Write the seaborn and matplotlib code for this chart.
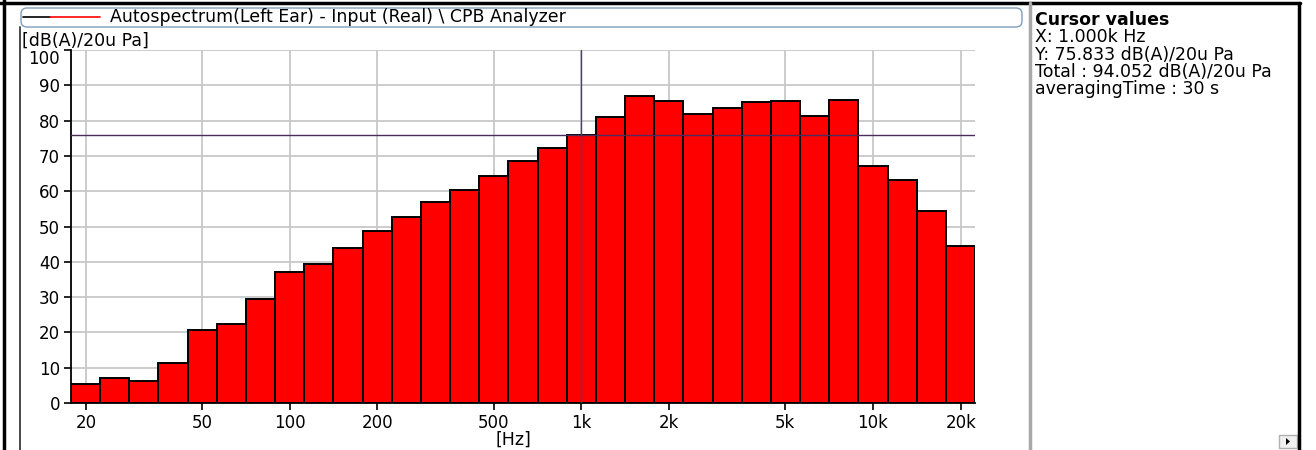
import numpy as np
import pandas as pd
import matplotlib
matplotlib.use("Agg")
import matplotlib.pyplot as plt
import matplotlib.transforms as mtransforms
from matplotlib.lines import Line2D
from matplotlib.patches import FancyBboxPatch, Rectangle, Polygon
import seaborn as sns

# ------------------------------------------------------------
# data: 1/3-octave CPB spectrum, left ear, dB(A) re 20 uPa
# ------------------------------------------------------------
band_nominal_hz = [20, 25, 31.5, 40, 50, 63, 80, 100, 125, 160,
                   200, 250, 315, 400, 500, 630, 800, 1000, 1250, 1600,
                   2000, 2500, 3150, 4000, 5000, 6300, 8000, 10000, 12500, 16000,
                   20000]
level_dba = [5.5, 7.2, 6.3, 11.3, 20.8, 22.5, 29.5, 37.0, 39.4, 44.0,
             48.8, 52.8, 56.8, 60.4, 64.4, 68.5, 72.2, 75.833, 81.1, 87.0,
             85.5, 81.8, 83.7, 85.4, 85.5, 81.3, 85.7, 67.1, 63.2, 54.4,
             44.5]

xtick_hz = [20, 50, 100, 200, 500, 1000, 2000, 5000, 10000, 20000]
xtick_labels = ["20", "50", "100", "200", "500", "1k", "2k", "5k", "10k", "20k"]
ytick_db = list(range(0, 101, 10))

cursor_x = 1000
cursor_y = 75.833
cursor_lines = ["X: 1.000k Hz",
                "Y: 75.833 dB(A)/20u Pa",
                "Total : 94.052 dB(A)/20u Pa",
                "averagingTime : 30 s"]

# exact base-10 band centres from the nominal values
band_index = np.round(10 * np.log10(np.array(band_nominal_hz) / 1000.0))
df = pd.DataFrame({"freq": 1000.0 * 10 ** (band_index / 10.0),
                   "level": level_dba})
lo_edge = df["freq"].iloc[0] * 10 ** -0.05
hi_edge = df["freq"].iloc[-1] * 10 ** 0.05

# ------------------------------------------------------------
# figure
# ------------------------------------------------------------
sns.set_style("white")
plt.rcParams["font.family"] = ["DejaVu Sans"]
plt.rcParams["text.color"] = "black"
plt.rcParams["xtick.color"] = "black"
plt.rcParams["ytick.color"] = "black"
plt.rcParams["xtick.labelcolor"] = "black"
plt.rcParams["ytick.labelcolor"] = "black"

TXT = 12.5

W, H = 1316, 450
fig = plt.figure(figsize=(W / 100, H / 100), dpi=100)
# pixel coords (x from left, y from top) -> figure
px = mtransforms.Affine2D().scale(1 / W, -1 / H).translate(0, 1) + fig.transFigure

ax = fig.add_axes([71 / W, 1 - 403 / H, 904 / W, 353 / H])
sns.barplot(data=df, x="freq", y="level", native_scale=True, log_scale=(True, False),
            width=1.0, color="#ff0000", saturation=1, edgecolor="black",
            linewidth=1.4, errorbar=None, ax=ax, zorder=2)

ax.set_xlim(lo_edge, hi_edge)
ax.set_ylim(0, 100)
ax.set_xticks(xtick_hz)
ax.set_xticklabels(xtick_labels)
ax.xaxis.set_minor_locator(matplotlib.ticker.NullLocator())
ax.set_yticks(ytick_db)
ax.set_xlabel("")
ax.set_ylabel("")
ax.tick_params(axis="both", which="major", direction="out", length=5, width=1.2,
               color="black", labelcolor="black", labelsize=12, pad=3,
               bottom=True, left=True)
ax.get_yticklabels()[-1].set_va("top")

ax.grid(True, color="#c8c8c8", linewidth=1.3)
ax.set_axisbelow(True)
for s in ["top", "right"]:
    ax.spines[s].set_visible(False)
for s in ["left", "bottom"]:
    ax.spines[s].set_color("black")
    ax.spines[s].set_linewidth(1.3)

# cursor
ax.axvline(cursor_x, color="#4b3f86", linewidth=1.0, zorder=5)
ax.axhline(cursor_y, color="#4a2d5c", linewidth=1.0, zorder=5)

# ------------------------------------------------------------
# window decorations
# ------------------------------------------------------------
def hline(x0, x1, y, **kw):
    fig.add_artist(Line2D([x0, x1], [y, y], transform=px, **kw))

def vline(x, y0, y1, **kw):
    fig.add_artist(Line2D([x, x], [y0, y1], transform=px, **kw))

hline(0, 1300, 3, color="black", linewidth=2.5, zorder=11)
vline(4, 0, H, color="black", linewidth=2.5, zorder=11)
vline(1299, 3, H, color="black", linewidth=2.5, zorder=11)
vline(20, 27, H, color="#3a3a3a", linewidth=1.3, zorder=11)
vline(1030, 3, H, color="#a8a8a8", linewidth=2.5, zorder=11)
fig.add_artist(Rectangle((1301, 0), 15, H, transform=px, facecolor="white",
                         edgecolor="none", zorder=10))

# legend box
fig.add_artist(FancyBboxPatch((21, 8), 1001, 19, transform=px,
                              boxstyle="round,pad=0,rounding_size=6",
                              facecolor="white", edgecolor="#7f9db9",
                              linewidth=1.0, zorder=4))
hline(23, 50, 17, color="black", linewidth=1.2, zorder=5)
hline(50, 100, 17, color="#ff0000", linewidth=1.2, zorder=5)
fig.text(110, 17.5, "Autospectrum(Left Ear) - Input (Real) \\ CPB Analyzer",
         transform=px, fontsize=TXT, va="center", ha="left", zorder=5)

fig.text(22, 41, "[dB(A)/20u Pa]", transform=px, fontsize=TXT, va="center", ha="left")
fig.text(513, 440, "[Hz]", transform=px, fontsize=TXT, va="center", ha="center")

# cursor value panel
fig.text(1035, 20, "Cursor values", transform=px, fontsize=TXT,
         fontweight="bold", va="center", ha="left")
for i, line in enumerate(cursor_lines):
    fig.text(1035, 37.5 + i * 17.3, line, transform=px, fontsize=TXT,
             va="center", ha="left", zorder=3)

# little scroll button
fig.add_artist(Rectangle((1279, 435), 18, 13, transform=px, facecolor="#f0f0f0",
                         edgecolor="#b0b0b0", linewidth=1.0, zorder=5))
fig.add_artist(Polygon([[1286, 438], [1286, 445], [1290, 441.5]], closed=True,
                       transform=px, facecolor="black", edgecolor="none", zorder=6))

plt.savefig("out.png", dpi=100)
